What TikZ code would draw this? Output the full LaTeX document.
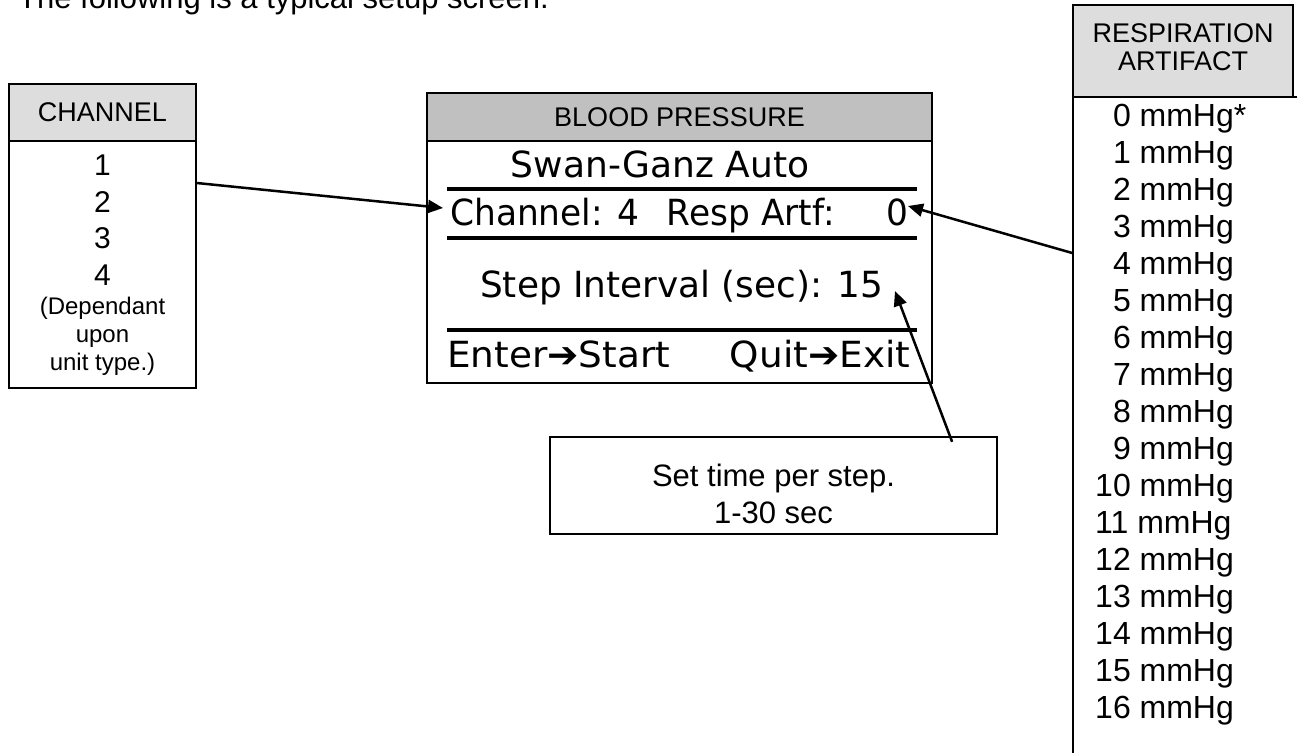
\documentclass[tikz,border=0pt]{standalone}
\usepackage{fontspec}
\setmainfont{Liberation Sans}
\newfontfamily\lcd{DejaVu Sans}
\usetikzlibrary{arrows.meta}
\definecolor{hdrlight}{HTML}{DDDDDD}
\definecolor{hdrdark}{HTML}{C0C0C0}
\newcommand\fsz[1]{\fontsize{#1}{#1}\selectfont}
\newcommand\fitw[2]{\resizebox{#1}{\height}{#2}}
\tikzset{
  box/.style={draw, line width=1.6pt, inner sep=0pt},
  lbl/.style={inner sep=0pt, anchor=base},
  hdrtxt/.style={lbl, font=\fsz{27}},
  chtxt/.style={lbl, font=\fsz{30}},
  smalltxt/.style={lbl, font=\fsz{24}},
  listtxt/.style={lbl, anchor=base west, font=\fsz{32}},
  lcdtxt/.style={lbl, font=\lcd\fsz{36}},
  scrline/.style={line width=3.3pt},
  ptr/.style={line width=2.5pt, -{Triangle[length=15pt,width=13pt]}},
}
\begin{document}
\begin{tikzpicture}[x=1pt,y=-1pt]
\useasboundingbox (0,0) rectangle (1297,752);
\clip (0,0) rectangle (1297,752);

% intro line (cut at top, as in the reference)
\node[lbl, anchor=base west, font=\fsz{31}] (intro) at (18,8.5) {The following is a typical setup screen.};

% CHANNEL box
\node[box, fill=hdrlight, minimum width=187pt, minimum height=57pt] (chhead) at (102.5,112.5) {};
\node[box, minimum width=187pt, minimum height=247pt] (chbody) at (102.5,264.5) {};
\node[hdrtxt] (chtitle) at (102.5,121.7) {CHANNEL};
\foreach \v [count=\i from 0] in {1,2,3,4}
  \node[chtxt] (ch\v) at (102.5,175.5+36.5*\i) {\v};
\node[smalltxt] (dep1) at (102.5,314.5) {(Dependant};
\node[smalltxt] (dep2) at (102.5,342.5) {upon};
\node[smalltxt] (dep3) at (102.5,370.5) {unit type.)};

% BLOOD PRESSURE screen
\node[box, fill=hdrdark, minimum width=505pt, minimum height=48pt] (bphead) at (679.5,117) {};
\node[box, minimum width=505pt, minimum height=242pt] (bpbody) at (679.5,262) {};
\node[hdrtxt] (bptitle) at (679.5,126.7) {BLOOD PRESSURE};
\node[lcdtxt] (scr1) at (660,177) {Swan-Ganz Auto};
\node[lcdtxt, anchor=base west] (scr2) at (450,225) {\fitw{458pt}{Channel: 4\hspace{0.8em}Resp Artf:\hspace{1.5em}0}};
\node[lcdtxt, anchor=base west] (scr3) at (480,297) {\fitw{403pt}{Step Interval (sec): 15}};
\node[lcdtxt, anchor=base west] (scr4) at (447,367) {\fitw{463pt}{Enter➔Start\hspace{1.6em}Quit➔Exit}};
\draw[scrline] (447,189) coordinate (r1a) -- (917,189) coordinate (r1b);
\draw[scrline] (447,238) coordinate (r2a) -- (917,238) coordinate (r2b);
\draw[scrline] (447,330) coordinate (r3a) -- (917,330) coordinate (r3b);

% RESPIRATION ARTIFACT box
\node[box, fill=hdrlight, minimum width=220pt, minimum height=92pt] (rahead) at (1183,51) {};
\node[box, minimum width=260pt, minimum height=700pt] (rabody) at (1203,447) {};
\node[hdrtxt] (ratitle1) at (1183,42.6) {RESPIRATION};
\node[hdrtxt] (ratitle2) at (1183,70.6) {ARTIFACT};
\node[listtxt] (ra0) at (1095,126.5) {\phantom{0}0 mmHg*};
\foreach \v in {1,...,9}
  \node[listtxt] (ra\v) at (1095,126.5+37*\v) {\phantom{0}\v{} mmHg};
\foreach \v in {10,...,16}
  \node[listtxt] (ra\v) at (1095,126.5+37*\v) {\v{} mmHg};

% Set time box
\node[box, minimum width=447pt, minimum height=97pt] (settime) at (773.5,485.5) {};
\node[lbl, font=\fsz{31}] (st1) at (773.5,486) {Set time per step.};
\node[lbl, font=\fsz{31}] (st2) at (773.5,523) {1-30 sec};

% pointers
\coordinate (tipch) at (443,208);
\coordinate (tipra) at (908,206);
\coordinate (tipst) at (895,291);
\draw[ptr] (chbody.east |- 0,183) -- (tipch);
\draw[ptr] (rabody.west |- 0,253) -- (tipra);
\draw[ptr, shorten <=-6pt] (settime.north -| 950,0) -- (tipst);
\end{tikzpicture}
\end{document}
